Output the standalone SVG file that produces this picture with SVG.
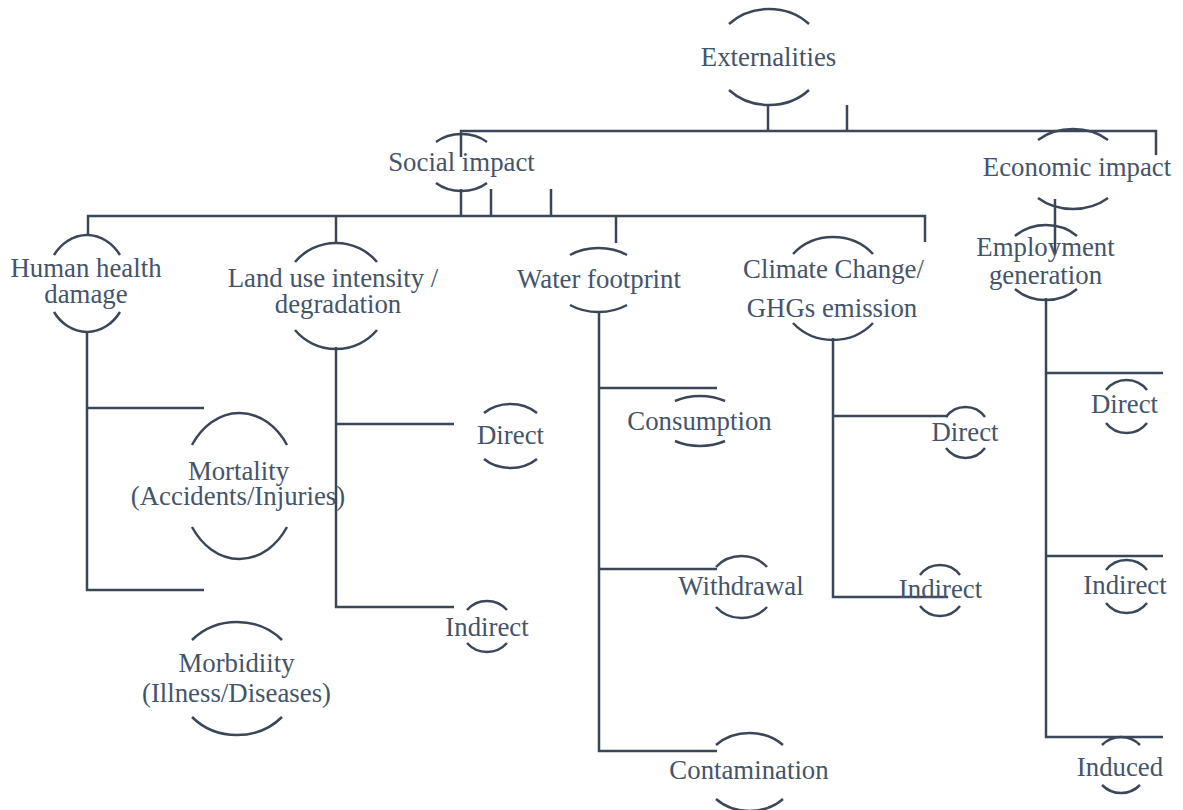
<svg xmlns="http://www.w3.org/2000/svg" width="1183" height="810" viewBox="0 0 1183 810" font-family="'Liberation Serif', 'Times New Roman', 'DejaVu Serif', serif">
<style>
.arc{fill:none;stroke:#3b4759;stroke-width:2.5}
.ln{fill:none;stroke:#3b4759;stroke-width:2.5}
.t{font-family:'Liberation Serif', 'Times New Roman', 'DejaVu Serif', serif;font-size:26.8px;fill:#44546a;text-anchor:middle}
</style>
<rect width="1183" height="810" fill="#ffffff"/>
<g id="connectors">
<path class="ln" d="M768 106 V131 M847 105 V131 M461 157 V131 H1156 V155"/>
<path class="ln" d="M461 189 V216 M491 189 V216 M551 189 V216 M88 235 V216 H925 V242 M336 216 V243 M616 216 V243"/>
<path class="ln" d="M87 332 V590 H204 M87 408 H204"/>
<path class="ln" d="M336 347 V607 H454 M336 424 H454"/>
<path class="ln" d="M599 312 V751 H717 M599 388 H717 M599 569 H717"/>
<path class="ln" d="M833 338 V597 H948 M833 416 H948"/>
<path class="ln" d="M1055 199 V254"/>
<path class="ln" d="M1046 298 V737 H1163 M1046 373 H1163 M1046 556 H1163"/>
</g>
<g id="externalities">
<path class="arc" d="M729 24 A55.3 48.5 0 0 1 809 24 M729 90 A55.3 48.5 0 0 0 809 90"/>
<text class="t" x="768.5" y="66">Externalities</text>
</g>
<g id="social-impact">
<path class="arc" d="M436 142 A36.2 27.5 0 0 1 487 142 M436 183 A36.2 27.5 0 0 0 487 183"/>
<text class="t" x="461.5" y="171">Social impact</text>
</g>
<g id="economic-impact">
<path class="arc" d="M1038 140 A50.6 39.5 0 0 1 1108 140 M1038 198 A50.6 39.5 0 0 0 1108 198"/>
<text class="t" x="1077" y="176">Economic impact</text>
</g>
<g id="human-health">
<path class="arc" d="M54 255 A40.8 48.5 0 0 1 120 255 M54 312 A40.8 48.5 0 0 0 120 312"/>
<text class="t" x="86" y="277">Human health</text>
<text class="t" x="86" y="303">damage</text>
</g>
<g id="land-use">
<path class="arc" d="M295 262 A53 52 0 0 1 377 262 M295 330 A53 52 0 0 0 377 330"/>
<text class="t" x="333" y="287">Land use intensity /</text>
<text class="t" x="338" y="313">degradation</text>
</g>
<g id="water-footprint">
<path class="arc" d="M570 255 A45.7 32 0 0 1 627 255 M570 305 A45.7 32 0 0 0 627 305"/>
<text class="t" x="599" y="288">Water footprint</text>
</g>
<g id="climate-change">
<path class="arc" d="M793 254 A53.5 50.5 0 0 1 873 254 M793 323 A53.5 50.5 0 0 0 873 323"/>
<text class="t" x="833.5" y="278">Climate Change/</text>
<text class="t" x="832" y="317">GHGs emission</text>
</g>
<g id="employment">
<path class="arc" d="M1015 236 A43.3 36.5 0 0 1 1077 236 M1015 289 A43.3 36.5 0 0 0 1077 289"/>
<text class="t" x="1045.5" y="256">Employment</text>
<text class="t" x="1045.5" y="284">generation</text>
</g>
<g id="mortality">
<path class="arc" d="M192 445 A57.6 73.5 0 0 1 287 445 M192 527 A57.6 73.5 0 0 0 287 527"/>
<text class="t" x="238.5" y="480">Mortality</text>
<text class="t" x="238" y="505">(Accidents/Injuries)</text>
</g>
<g id="morbidity">
<path class="arc" d="M192 640 A61.2 56 0 0 1 282 640 M192 717 A61.2 56 0 0 0 282 717"/>
<text class="t" x="236.5" y="672">Morbidiity</text>
<text class="t" x="236.5" y="702">(Illness/Diseases)</text>
</g>
<g id="land-direct">
<path class="arc" d="M484 413 A38.4 32.5 0 0 1 537 413 M484 459 A38.4 32.5 0 0 0 537 459"/>
<text class="t" x="510.5" y="444">Direct</text>
</g>
<g id="land-indirect">
<path class="arc" d="M467 610 A26.5 26 0 0 1 507 610 M467 643 A26.5 26 0 0 0 507 643"/>
<text class="t" x="487" y="636">Indirect</text>
</g>
<g id="consumption">
<path class="arc" d="M675 401 A42 25.5 0 0 1 725 401 M675 441 A42 25.5 0 0 0 725 441"/>
<text class="t" x="699.5" y="430">Consumption</text>
</g>
<g id="withdrawal">
<path class="arc" d="M716 567 A33.4 31 0 0 1 767 567 M716 607 A33.4 31 0 0 0 767 607"/>
<text class="t" x="741" y="595">Withdrawal</text>
</g>
<g id="contamination">
<path class="arc" d="M716 745 A46 38 0 0 1 783 745 M716 799 A46 38 0 0 0 783 799"/>
<text class="t" x="749" y="779">Contamination</text>
</g>
<g id="climate-direct">
<path class="arc" d="M946 417 A24.6 25.5 0 0 1 985 417 M946 448 A24.6 25.5 0 0 0 985 448"/>
<text class="t" x="965" y="441">Direct</text>
</g>
<g id="climate-indirect">
<path class="arc" d="M920 575 A25.2 25.5 0 0 1 960 575 M920 606 A25.2 25.5 0 0 0 960 606"/>
<text class="t" x="940.5" y="598">Indirect</text>
</g>
<g id="employment-direct">
<path class="arc" d="M1106 390 A25.8 25.5 0 0 1 1147 390 M1106 423 A25.8 25.5 0 0 0 1147 423"/>
<text class="t" x="1124.5" y="413">Direct</text>
</g>
<g id="employment-indirect">
<path class="arc" d="M1106 570 A26 26 0 0 1 1147 570 M1106 603 A26 26 0 0 0 1147 603"/>
<text class="t" x="1125" y="594">Indirect</text>
</g>
<g id="employment-induced">
<path class="arc" d="M1102 745 A27.3 28.5 0 0 1 1140 745 M1102 785 A27.3 28.5 0 0 0 1140 785"/>
<text class="t" x="1120" y="776">Induced</text>
</g>
</svg>
